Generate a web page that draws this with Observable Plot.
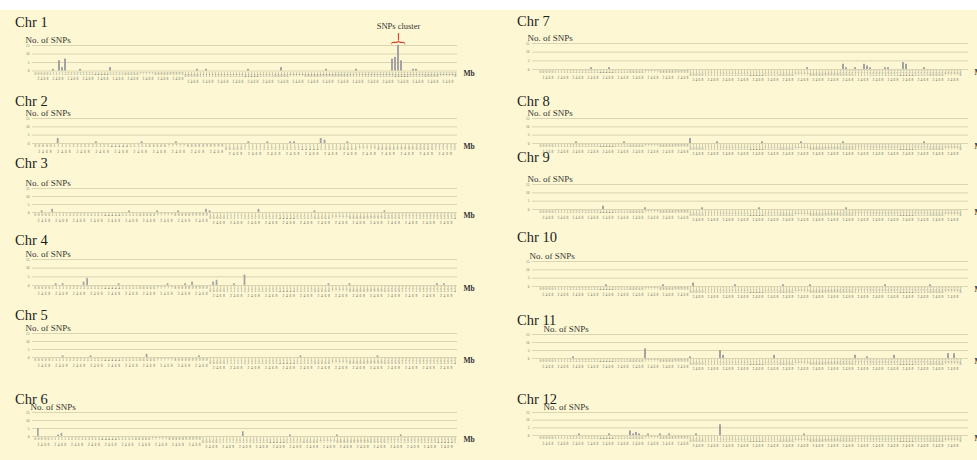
<!DOCTYPE html>
<html><head><meta charset="utf-8">
<script src="https://cdn.jsdelivr.net/npm/d3@7"></script>
<script src="https://cdn.jsdelivr.net/npm/@observablehq/plot@0.6"></script>
<style>
html,body{margin:0;padding:0;background:#fff;overflow:hidden;}
#wrap{position:relative;width:977px;height:460px;overflow:hidden;}
#bg{position:absolute;left:0;top:10px;width:977px;height:450px;background:#fdf8d3;}
.title{position:absolute;font-family:"Liberation Serif",serif;font-size:14.5px;color:#1e1e1e;line-height:1;white-space:nowrap;}
.panel{position:absolute;}
.panel svg{overflow:visible;}
</style></head>
<body><div id="wrap"><div id="bg"></div></div>
<script>
// ---- data ----
const chromosomes = ["Chr 1","Chr 2","Chr 3","Chr 4","Chr 5","Chr 6","Chr 7","Chr 8","Chr 9","Chr 10","Chr 11","Chr 12"];
const chrLengthMb = [28, 22, 24, 24, 24, 25, 28, 28, 28, 28, 28, 28];
const binStepMb = 0.2;
const yTicks = [0, 5, 10, 15];

const chr1Pos = [1.2, 1.6, 1.8, 2.0, 3.0, 5.0, 10.8, 11.4, 14.2, 16.4, 19.4, 21.4, 23.8, 24.0, 24.2, 24.4, 25.2, 25.4];
const chr1Cnt = [1, 6, 2, 7, 1, 2, 1, 1, 1, 2, 1, 1, 7, 8, 15, 6, 1, 1];
const chr2Pos = [1.2, 3.2, 5.6, 7.4, 11.2, 12.2, 13.4, 13.6, 15.0, 15.2, 16.4];
const chr2Cnt = [3, 1, 1, 1, 1, 1, 1, 1, 3, 2, 1];
const chr3Pos = [0.4, 1.0, 5.4, 7.0, 8.2, 9.8, 10.0, 12.8, 16.0, 20.0];
const chr3Cnt = [1, 2, 1, 1, 1, 2, 1, 2, 1, 1];
const chr4Pos = [1.2, 1.6, 2.8, 3.0, 4.8, 7.6, 8.6, 9.0, 10.2, 10.4, 11.4, 12.0, 16.8, 18.0, 23.0, 23.4];
const chr4Cnt = [1, 1, 2, 4, 1, 1, 1, 2, 2, 3, 1, 6, 1, 1, 1, 1];
const chr5Pos = [1.6, 3.2, 6.4, 9.4, 15.2, 19.6];
const chr5Cnt = [1, 1, 2, 1, 1, 1];
const chr6Pos = [0.2, 1.4, 1.6, 12.4, 15.2, 18.0, 21.8];
const chr6Cnt = [5, 1, 2, 3, 1, 1, 1];
const chr7Pos = [3.4, 4.6, 17.8, 20.2, 20.4, 21.0, 21.6, 21.8, 22.0, 23.0, 23.2, 24.2, 24.4, 25.6];
const chr7Cnt = [1, 1, 1, 3, 1, 1, 3, 2, 1, 1, 1, 4, 3, 1];
const chr8Pos = [2.4, 5.6, 10.0, 11.8, 14.8, 17.4, 20.2, 25.6];
const chr8Cnt = [1, 1, 3, 1, 1, 1, 1, 1];
const chr9Pos = [4.2, 7.0, 10.8, 14.6, 20.4];
const chr9Cnt = [2, 1, 1, 1, 1];
const chr10Pos = [4.4, 8.2, 10.2, 13.0, 16.2, 18.0, 23.0, 26.0];
const chr10Cnt = [1, 1, 2, 1, 1, 1, 1, 1];
const chr11Pos = [2.2, 7.0, 10.0, 12.0, 12.2, 15.6, 21.0, 21.8, 23.6, 27.2, 27.6];
const chr11Cnt = [1, 6, 1, 5, 2, 2, 2, 1, 2, 3, 3];
const chr12Pos = [2.6, 4.6, 6.0, 6.2, 6.4, 6.6, 7.2, 8.0, 8.6, 10.4, 12.0, 17.6];
const chr12Cnt = [1, 1, 3, 1, 2, 1, 1, 1, 1, 1, 7, 1];

const positions = [chr1Pos, chr2Pos, chr3Pos, chr4Pos, chr5Pos, chr6Pos, chr7Pos, chr8Pos, chr9Pos, chr10Pos, chr11Pos, chr12Pos];
const counts = [chr1Cnt, chr2Cnt, chr3Cnt, chr4Cnt, chr5Cnt, chr6Cnt, chr7Cnt, chr8Cnt, chr9Cnt, chr10Cnt, chr11Cnt, chr12Cnt];
const yLabel = "No. of SNPs";
const unitLabel = "Mb";
const clusterLabel = "SNPs cluster";
const clusterAt = 24.2; // Chr 1

// ---- layout ----
const layout = [
  {left:0, width:490, mr:33, top:44.5, bottom:70,  tx:15, ty:15,  ndx:-7},
  {left:0, width:490, mr:33, top:118,  bottom:143, tx:15, ty:94,  ndx:-7},
  {left:0, width:490, mr:33, top:188,  bottom:212, tx:15, ty:156, ndx:-7},
  {left:0, width:490, mr:33, top:259,  bottom:285, tx:15, ty:233, ndx:-7},
  {left:0, width:490, mr:33, top:333,  bottom:357, tx:15, ty:308, ndx:-7},
  {left:0, width:490, mr:33, top:412,  bottom:436, tx:15, ty:392, ndx:-2},
  {left:500, width:477, mr:9, top:43,  bottom:69,  tx:517, ty:14,  ndx:-5},
  {left:500, width:477, mr:9, top:118, bottom:143, tx:517, ty:94,  ndx:-5},
  {left:500, width:477, mr:9, top:184, bottom:209, tx:517, ty:150, ndx:-5},
  {left:500, width:477, mr:9, top:261, bottom:286, tx:517, ty:230, ndx:-3},
  {left:500, width:477, mr:9, top:334, bottom:358, tx:517, ty:313, ndx:11},
  {left:500, width:477, mr:9, top:412, bottom:435, tx:517, ty:392, ndx:11}
];
const fmt = v => String(+v.toFixed(1));
const stack = s => s.split("").join("\n");
const wrap = document.getElementById("wrap");
const MT = 14, MB = 20, ML = 32;
const serif = "Liberation Serif";

chromosomes.forEach((name, i) => {
  const L = layout[i];
  const n = Math.round(chrLengthMb[i] / binStepMb);
  const domain = d3.range(n + 1).map(k => fmt(k * binStepMb));
  const data = positions[i].map((p, j) => ({bin: fmt(p), count: counts[i][j]}));
  const marks = [
    Plot.gridY(yTicks, {stroke: "#d3cca8", strokeOpacity: 1, strokeWidth: 0.8}),
    Plot.axisY(yTicks, {tickSize: 0, tickPadding: 3, fontSize: 3.5, fill: "#6f6f68", label: null, fontFamily: serif}),
    Plot.text(domain, {x: d => d, frameAnchor: "bottom", text: d => stack(d), lineAnchor: "top", lineHeight: 0.72, dy: 2, fontSize: 3.6, fill: "#66665f", fontFamily: serif}),
    Plot.barY(data, {x: "bin", y: "count", fill: "#a3a3a3"}),
    Plot.text([yLabel], {frameAnchor: "top-left", text: d => d, textAnchor: "start", lineAnchor: "bottom", dx: L.ndx, dy: -2.5, fontSize: 9, fill: "#333", fontFamily: serif}),
    Plot.text([unitLabel], {frameAnchor: "bottom-right", text: d => d, textAnchor: "start", lineAnchor: "middle", dx: 6, dy: 3, fontSize: 7.5, fontWeight: "bold", fill: "#333", fontFamily: serif})
  ];
  if (i === 0) {
    marks.push(
      Plot.ruleX([fmt(clusterAt)], {x: d => d, y1: 18, y2: 22, stroke: "#d8412f", strokeWidth: 1.2}),
      Plot.text([fmt(clusterAt)], {x: d => d, y: 16.8, text: () => "{", rotate: 90, fontSize: 16, fill: "#d8412f", fontFamily: serif}),
      Plot.text([fmt(clusterAt)], {x: d => d, y: 24.6, text: () => clusterLabel, fontSize: 8.5, fill: "#333", fontFamily: serif, lineAnchor: "bottom"})
    );
  }
  const h = MT + (L.bottom - L.top) + MB;
  const plot = Plot.plot({
    width: L.width, height: h,
    marginLeft: ML, marginRight: L.mr, marginTop: MT, marginBottom: MB,
    style: {background: "transparent", overflow: "visible"},
    x: {type: "band", domain, padding: 0.5, axis: null},
    y: {domain: [0, 15], axis: null},
    marks
  });
  const div = document.createElement("div");
  div.className = "panel";
  div.style.left = L.left + "px";
  div.style.top = (L.top - MT) + "px";
  div.appendChild(plot);
  wrap.appendChild(div);
  const t = document.createElement("div");
  t.className = "title";
  t.style.left = L.tx + "px";
  t.style.top = L.ty + "px";
  t.textContent = name;
  wrap.appendChild(t);
});
</script>
</body></html>
